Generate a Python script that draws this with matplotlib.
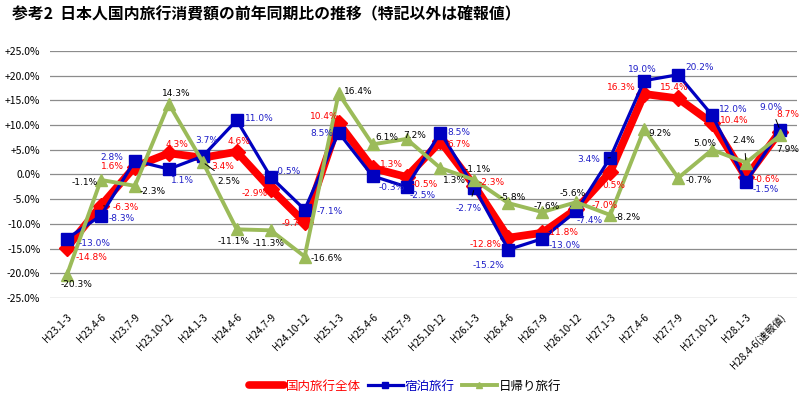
import matplotlib
matplotlib.use("Agg")
import matplotlib.pyplot as plt
from matplotlib.ticker import FuncFormatter
from matplotlib.lines import Line2D

plt.rcParams["font.family"] = ["Noto Sans CJK JP", "DejaVu Sans"]

################################################################################
# Data
################################################################################
CATEGORIES = [
    "H23.1-3", "H23.4-6", "H23.7-9", "H23.10-12",
    "H24.1-3", "H24.4-6", "H24.7-9", "H24.10-12",
    "H25.1-3", "H25.4-6", "H25.7-9", "H25.10-12",
    "H26.1-3", "H26.4-6", "H26.7-9", "H26.10-12",
    "H27.1-3", "H27.4-6", "H27.7-9", "H27.10-12",
    "H28.1-3", "H28.4-6(速報値)"]

TOTAL = [-14.8, -6.3, 1.6, 4.3, 3.4, 4.6, -2.9, -9.7, 10.4, 1.3, -0.5,
         6.7, -2.3, -12.8, -11.8, -7.0, 0.5, 16.3, 15.4, 10.4, -0.6, 8.7]
STAY = [-13.0, -8.3, 2.8, 1.1, 3.7, 11.0, -0.5, -7.1, 8.5, -0.3, -2.5,
        8.5, -2.7, -15.2, -13.0, -7.4, 3.4, 19.0, 20.2, 12.0, -1.5, 9.0]
DAYTRIP = [-20.3, -1.1, -2.3, 14.3, 2.5, -11.1, -11.3, -16.6, 16.4, 6.1, 7.2,
           1.3, -1.1, -5.8, -7.6, -5.6, -8.2, 9.2, -0.7, 5.0, 2.4, 7.9]

SERIES_NAMES = ["国内旅行全体", "宿泊旅行", "日帰り旅行"]
Y_TICKS = [-25, -20, -15, -10, -5, 0, 5, 10, 15, 20, 25]

################################################################################
# Label offsets (pixels, x right / y down)
################################################################################
TOTAL_OFF = [(25, 10), (25, 2), (-22, 0), (8, -9), (20, 9), (2, -10),
             (-16, 5), (-10, 1), (-14, -7), (19, -4), (18, 8), (18, 3),
             (17, -3), (-23, 7), (20, 0), (28, -4), (4, 13), (-23, -6),
             (-4, -11), (22, -3), (21, 2), (8, -17)]
STAY_OFF = [(28, 5), (21, 3), (-23, -3), (14, 11), (4, -16), (23, -2),
            (17, -5), (25, 2), (-17, 1), (19, 12), (16, 9), (18, 0),
            (-6, 21), (-20, 16), (22, 7), (13, 9), (-22, 2), (-2, -11),
            (21, -7), (21, -6), (20, 8), (-9, -23)]
DAYTRIP_OFF = [(10, 10), (-16, 3), (18, 6), (7, -10), (26, 19), (-3, 12),
               (-2, 13), (22, 2), (20, -2), (14, -7), (8, -3), (14, 12),
               (3, -10), (4, -6), (4, -6), (-4, -9), (17, 2), (16, 4),
               (21, 3), (-7, -6), (-2, -22), (8, 14)]
LEADERS = {("total", 1), ("daytrip", 4), ("stay", 21), ("daytrip", 20),
           ("stay", 16), ("stay", 12)}

RED     = "#FF0000"
BLUE    = "#0000C0"
GREEN   = "#9BBB59"
GRID    = "#8C8C8C"

################################################################################
# Plot
################################################################################
fig = plt.figure(figsize=(8.05, 3.97), dpi=100)
ax = fig.add_axes([50 / 805, 1 - 298 / 397, 747 / 805, 247 / 397])

x = list(range(len(CATEGORIES)))

ax.plot(x, TOTAL, color=RED, lw=5.6, marker="D", ms=8.5, zorder=3,
        solid_joinstyle="miter")
ax.plot(x, STAY, color=BLUE, lw=2.3, marker="s", ms=8, zorder=4)
ax.plot(x, DAYTRIP, color=GREEN, lw=2.8, marker="^", ms=9, zorder=5)


def label_series(values, offsets, color, key):
    for i, (v, off) in enumerate(zip(values, offsets)):
        arrow = None
        if (key, i) in LEADERS:
            arrow = dict(arrowstyle="-", color="black", lw=0.7,
                         shrinkA=4, shrinkB=2)
        ax.annotate(f"{v:.1f}%", xy=(i, v), xytext=(off[0], -off[1]),
                    textcoords="offset pixels", ha="center", va="center",
                    fontsize=6.5, color=color, zorder=6, arrowprops=arrow,
                    family=["DejaVu Sans"])


label_series(TOTAL, TOTAL_OFF, RED, "total")
label_series(STAY, STAY_OFF, "#1F1FC8", "stay")
label_series(DAYTRIP, DAYTRIP_OFF, "black", "daytrip")

ax.set_xlim(-0.5, len(CATEGORIES) - 0.5)
ax.set_ylim(-25, 25)
ax.set_yticks(Y_TICKS)
ax.yaxis.set_major_formatter(
    FuncFormatter(lambda v, p: f"+{v:.1f}%" if v > 0 else f"{v:.1f}%"))
ax.set_xticks(x)
ax.set_xticklabels(CATEGORIES, rotation=45, ha="right",
                   rotation_mode="anchor", fontsize=7.2)
ax.tick_params(axis="y", length=0, labelsize=7.5, pad=7)
ax.tick_params(axis="x", length=0, pad=10)
ax.grid(axis="y", color=GRID, lw=0.9)
ax.set_axisbelow(True)
for s in ax.spines.values():
    s.set_visible(False)

handles = [
    Line2D([], [], color=RED, lw=5.5, solid_capstyle="round"),
    Line2D([], [], color=BLUE, lw=2.3, marker="s", ms=5),
    Line2D([], [], color=GREEN, lw=2.8, marker="^", ms=4)]
leg = fig.legend(handles, SERIES_NAMES, loc="center", ncol=3,
                 bbox_to_anchor=(405 / 805, 1 - 386 / 397), frameon=False,
                 fontsize=9, handlelength=2.8, handletextpad=0.15,
                 columnspacing=0.55)
for t, c in zip(leg.get_texts(), [RED, BLUE, "black"]):
    t.set_color(c)

fig.text(12 / 805, 1 - 14 / 397,
         "参考2  日本人国内旅行消費額の前年同期比の推移（特記以外は確報値）",
         fontsize=11.4, fontweight="bold", ha="left", va="center")

fig.savefig("out.png", dpi=100)
